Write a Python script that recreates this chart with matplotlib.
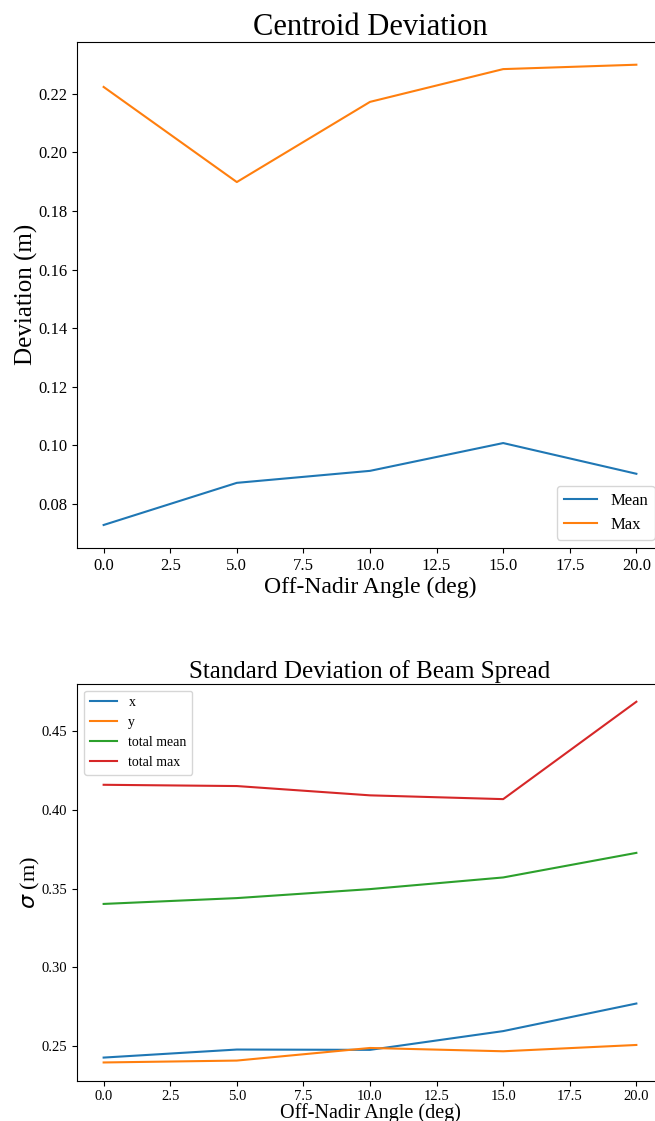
import matplotlib
matplotlib.use("Agg")
import matplotlib.pyplot as plt

plt.rcParams['font.family'] = ['Liberation Serif', 'DejaVu Serif']

# datos
angulos = [0, 5, 10, 15, 20]
dev_mean = [0.0727, 0.0871, 0.0912, 0.1007, 0.0902]
dev_max = [0.2224, 0.1899, 0.2173, 0.2285, 0.2300]

sig_x = [0.2428, 0.2479, 0.2477, 0.2596, 0.2771]
sig_y = [0.2397, 0.2409, 0.2489, 0.2468, 0.2508]
sig_total_mean = [0.3403, 0.3440, 0.3497, 0.3571, 0.3727]
sig_total_max = [0.4159, 0.4151, 0.4092, 0.4068, 0.4686]

W, H = 655, 1121
fig = plt.figure(figsize=(W / 100, H / 100), dpi=100)

# Grafica 1
ax1 = fig.add_axes([77 / W, (H - 548) / H, (663 - 77) / W, (548 - 41.7) / H])
ax1.plot(angulos, dev_mean, label="Mean")
ax1.plot(angulos, dev_max, label="Max")
ax1.set_title("Centroid Deviation", fontsize=22, pad=4)
ax1.set_xlabel("Off-Nadir Angle (deg)", fontsize=17, labelpad=2)
ax1.set_ylabel("Deviation (m)", fontsize=18, labelpad=0)
ax1.tick_params(labelsize=12)
ax1.legend(loc="lower right", fontsize=12)

# Grafica 2
ax2 = fig.add_axes([77 / W, (H - 1080.5) / H, (663 - 77) / W, (1080.5 - 683.7) / H])
ax2.plot(angulos, sig_x, label="x")
ax2.plot(angulos, sig_y, label="y")
ax2.plot(angulos, sig_total_mean, label="total mean")
ax2.plot(angulos, sig_total_max, label="total max")
ax2.set_title("Standard Deviation of Beam Spread", fontsize=18, pad=4)
ax2.set_xlabel("Off-Nadir Angle (deg)", fontsize=14.5, labelpad=0)
ax2.set_ylabel(r"$\sigma$ (m)", fontsize=16, labelpad=0)
ax2.tick_params(labelsize=10.5)
ax2.legend(loc="upper left", fontsize=10)

fig.savefig("out.png", dpi=100)
